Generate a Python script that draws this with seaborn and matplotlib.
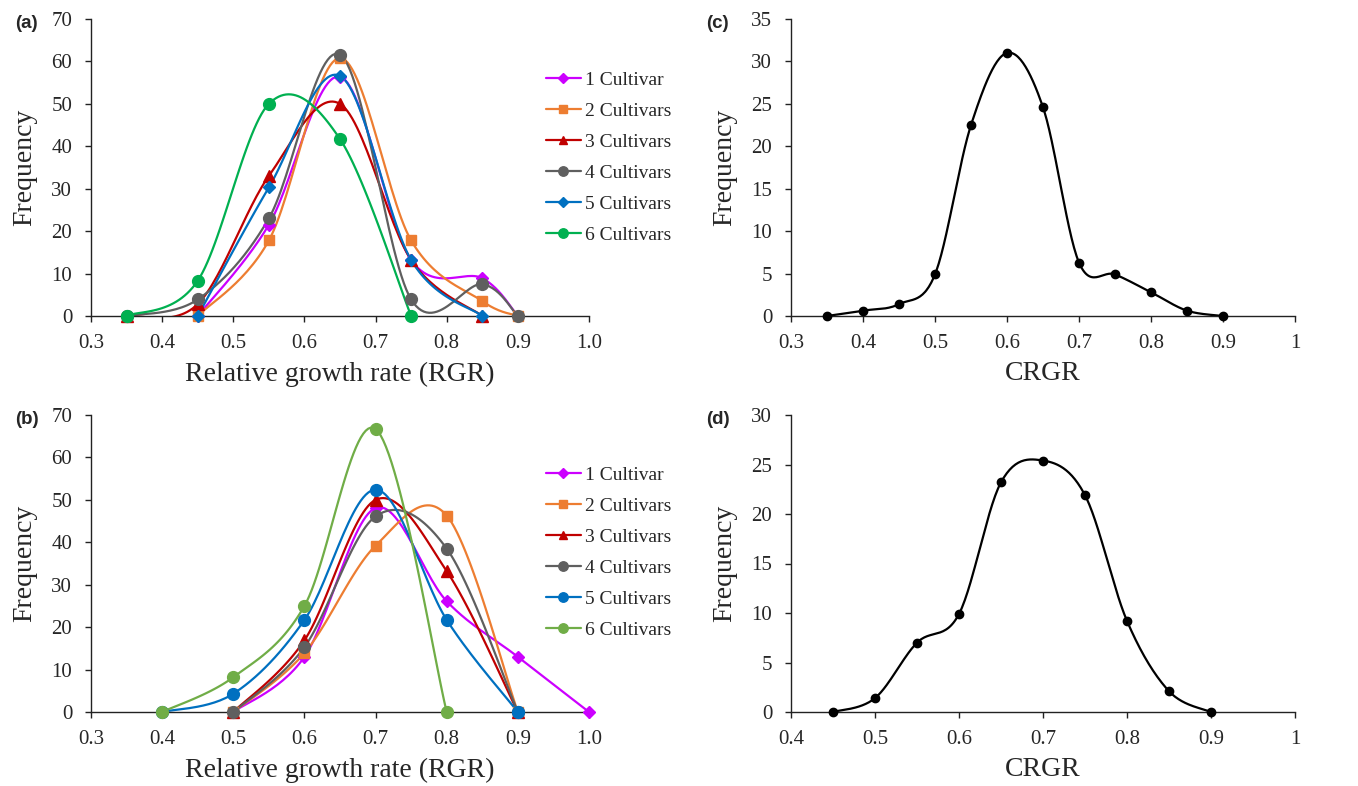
import numpy as np
import matplotlib
matplotlib.use("Agg")
import matplotlib.pyplot as plt
from matplotlib.lines import Line2D
import seaborn as sns

# ---- data ----
series_names = ["1 Cultivar", "2 Cultivars", "3 Cultivars", "4 Cultivars", "5 Cultivars", "6 Cultivars"]

# panel (a) RGR
a_x = {
    "1 Cultivar": [0.45, 0.55, 0.65, 0.75, 0.85, 0.9],
    "2 Cultivars": [0.45, 0.55, 0.65, 0.75, 0.85, 0.9],
    "3 Cultivars": [0.35, 0.45, 0.55, 0.65, 0.75, 0.85],
    "4 Cultivars": [0.35, 0.45, 0.55, 0.65, 0.75, 0.85, 0.9],
    "5 Cultivars": [0.45, 0.55, 0.65, 0.75, 0.85],
    "6 Cultivars": [0.35, 0.45, 0.55, 0.65, 0.75],
}
a_y = {
    "1 Cultivar": [0, 21.5, 56.4, 13.2, 8.9, 0],
    "2 Cultivars": [0, 17.8, 60.8, 17.8, 3.5, 0],
    "3 Cultivars": [0, 2.8, 33.0, 50.0, 13.2, 0],
    "4 Cultivars": [0, 3.9, 23.0, 61.6, 3.9, 7.5, 0],
    "5 Cultivars": [0, 30.3, 56.6, 13.2, 0],
    "6 Cultivars": [0, 8.3, 50.0, 41.7, 0],
}

# panel (b) RGR
b_x = {
    "1 Cultivar": [0.5, 0.6, 0.7, 0.8, 0.9, 1.0],
    "2 Cultivars": [0.5, 0.6, 0.7, 0.8, 0.9],
    "3 Cultivars": [0.5, 0.6, 0.7, 0.8, 0.9],
    "4 Cultivars": [0.5, 0.6, 0.7, 0.8, 0.9],
    "5 Cultivars": [0.4, 0.5, 0.6, 0.7, 0.8, 0.9],
    "6 Cultivars": [0.4, 0.5, 0.6, 0.7, 0.8],
}
b_y = {
    "1 Cultivar": [0, 13.0, 48.1, 26.1, 13.0, 0],
    "2 Cultivars": [0, 13.9, 39.2, 46.3, 0],
    "3 Cultivars": [0, 16.9, 50.0, 33.2, 0],
    "4 Cultivars": [0, 15.3, 46.1, 38.5, 0],
    "5 Cultivars": [0, 4.3, 21.7, 52.4, 21.7, 0],
    "6 Cultivars": [0, 8.2, 25.0, 66.7, 0],
}

# panel (c) CRGR
c_x = [0.35, 0.4, 0.45, 0.5, 0.55, 0.6, 0.65, 0.7, 0.75, 0.8, 0.85, 0.9]
c_y = [0, 0.63, 1.4, 4.9, 22.5, 31.0, 24.6, 6.3, 4.9, 2.8, 0.63, 0]

# panel (d) CRGR
d_x = [0.45, 0.5, 0.55, 0.6, 0.65, 0.7, 0.75, 0.8, 0.85, 0.9]
d_y = [0, 1.4, 7.0, 9.9, 23.2, 25.4, 21.9, 9.2, 2.1, 0]

# ---- styles ----
colors_a = ["#CC00FF", "#ED7D31", "#C00000", "#5F5F5F", "#0070C0", "#00B050"]
colors_b = ["#CC00FF", "#ED7D31", "#C00000", "#5F5F5F", "#0070C0", "#70AD47"]
markers_a = ["D", "s", "^", "o", "D", "o"]
markers_b = ["D", "s", "^", "o", "o", "o"]
msize_a = [6, 7, 8, 8.5, 6, 8.5]
msize_b = [6, 7, 8, 8.5, 8.5, 8.5]


def smooth(xs, ys, n=30):
    # Excel-like smoothed line (Catmull-Rom as cubic Bezier)
    p = np.column_stack([xs, ys]).astype(float)
    pts = np.vstack([p[0], p, p[-1]])
    out = []
    t = np.linspace(0, 1, n)[:, None]
    for i in range(1, len(pts) - 2):
        p0, p1, p2, p3 = pts[i - 1], pts[i], pts[i + 1], pts[i + 2]
        b1 = p1 + (p2 - p0) / 6
        b2 = p2 - (p3 - p1) / 6
        seg = (1 - t) ** 3 * p1 + 3 * (1 - t) ** 2 * t * b1 + 3 * (1 - t) * t ** 2 * b2 + t ** 3 * p2
        out.append(seg if i == 1 else seg[1:])
    out = np.vstack(out)
    return out[:, 0], out[:, 1]


sns.set_style("ticks")
plt.rcParams['font.family'] = ['Liberation Serif', 'DejaVu Serif']

fig = plt.figure(figsize=(13.58, 7.86), dpi=100)
ax_a = fig.add_axes([91 / 1358, 1 - 316 / 786, 498 / 1358, 297 / 786])
ax_b = fig.add_axes([91 / 1358, 1 - 712 / 786, 498 / 1358, 297 / 786])
ax_c = fig.add_axes([791 / 1358, 1 - 316 / 786, 504 / 1358, 297 / 786])
ax_d = fig.add_axes([791 / 1358, 1 - 712 / 786, 504 / 1358, 297 / 786])


def style_axis(ax, xlim, xticks, xlabels, ylim, yticks, xlabel):
    ax.set_xlim(*xlim)
    ax.set_ylim(*ylim)
    ax.set_xticks(xticks)
    ax.set_xticklabels(xlabels)
    ax.set_yticks(yticks)
    ax.set_yticklabels([str(v) for v in yticks])
    for s in ["top", "right"]:
        ax.spines[s].set_visible(False)
    for s in ["left", "bottom"]:
        ax.spines[s].set_color("#222222")
        ax.spines[s].set_linewidth(1.0)
    ax.tick_params(axis="both", labelsize=15, length=4, width=1.0, color="#222222", direction="out")
    ax.tick_params(axis="x", pad=9)
    ax.tick_params(axis="y", pad=9.5)
    ax.set_xlabel(xlabel, fontsize=20, labelpad=6)
    ax.set_ylabel("Frequency", fontsize=20, labelpad=10)


def draw_multi(ax, xd, yd, colors, markers, sizes, anchor):
    handles = []
    for name, c, m, ms in zip(series_names, colors, markers, sizes):
        sx, sy = smooth(xd[name], yd[name])
        sns.lineplot(x=sx, y=sy, color=c, lw=1.6, sort=False, estimator=None, ax=ax)
        ax.plot(xd[name], yd[name], linestyle="none", marker=m, color=c, markersize=ms, clip_on=False, zorder=4)
        handles.append(Line2D([0], [0], color=c, lw=1.6, marker=m, markersize=ms * 0.8, label=name))
    ax.legend(handles=handles, loc="upper left", bbox_to_anchor=anchor, frameon=False,
              fontsize=14, handlelength=1.8, handletextpad=0.2, labelspacing=0.69, borderaxespad=0)


# panel (a)
draw_multi(ax_a, a_x, a_y, colors_a, markers_a, msize_a, (0.898, 0.85))
style_axis(ax_a, (0.3, 1.0), np.arange(0.3, 1.01, 0.1), ["%.1f" % v for v in np.arange(0.3, 1.01, 0.1)],
           (0, 70), list(range(0, 71, 10)), "Relative growth rate (RGR)")

# panel (b)
draw_multi(ax_b, b_x, b_y, colors_b, markers_b, msize_b, (0.898, 0.853))
style_axis(ax_b, (0.3, 1.0), np.arange(0.3, 1.01, 0.1), ["%.1f" % v for v in np.arange(0.3, 1.01, 0.1)],
           (0, 70), list(range(0, 71, 10)), "Relative growth rate (RGR)")

# panel (c)
sx, sy = smooth(c_x, c_y)
sns.lineplot(x=sx, y=sy, color="black", lw=1.6, sort=False, estimator=None, ax=ax_c)
ax_c.plot(c_x, c_y, linestyle="none", marker="o", color="black", markersize=6, clip_on=False, zorder=4)
style_axis(ax_c, (0.3, 1.0), [0.3, 0.4, 0.5, 0.6, 0.7, 0.8, 0.9, 1.0],
           ["0.3", "0.4", "0.5", "0.6", "0.7", "0.8", "0.9", "1"], (0, 35), list(range(0, 36, 5)), "CRGR")

# panel (d)
sx, sy = smooth(d_x, d_y)
sns.lineplot(x=sx, y=sy, color="black", lw=1.6, sort=False, estimator=None, ax=ax_d)
ax_d.plot(d_x, d_y, linestyle="none", marker="o", color="black", markersize=6, clip_on=False, zorder=4)
style_axis(ax_d, (0.4, 1.0), [0.4, 0.5, 0.6, 0.7, 0.8, 0.9, 1.0],
           ["0.4", "0.5", "0.6", "0.7", "0.8", "0.9", "1"], (0, 30), list(range(0, 31, 5)), "CRGR")

# panel letters
for lab, x, y in [("(a)", 0.011, 0.9695), ("(b)", 0.011, 0.466), ("(c)", 0.52, 0.9695), ("(d)", 0.52, 0.466)]:
    fig.text(x, y, lab, fontsize=13.5, fontweight="bold", family=["Liberation Sans", "DejaVu Sans"], va="center")

fig.savefig("out.png", dpi=100)
